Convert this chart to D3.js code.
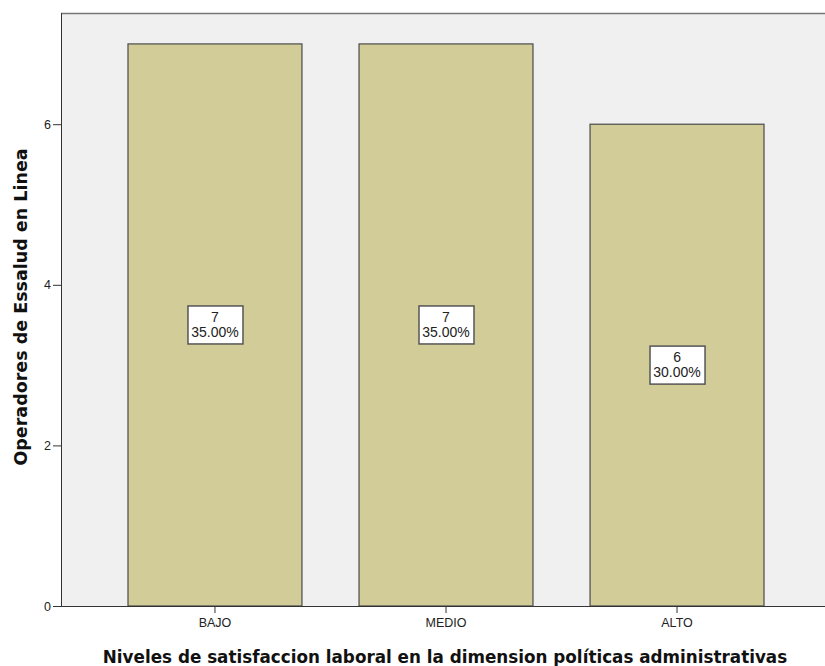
<html>
<head>
<meta charset="utf-8">
<style>
  body { margin: 0; background: #fff; }
  svg { display: block; }
  .axis text { font-family: "Liberation Sans", Arial, sans-serif; font-size: 12.5px; fill: #222; }
  .axis path, .axis line { stroke: #333; }
  .title { font-family: "DejaVu Sans", Verdana, sans-serif; font-weight: bold; fill: #111; }
  .lbl { font-family: "Liberation Sans", Arial, sans-serif; font-size: 14px; fill: #222; }
</style>
<script src="https://d3js.org/d3.v7.min.js"></script>
</head>
<body>
<svg width="825" height="666"></svg>
<script>
// data
var categories = ["BAJO", "MEDIO", "ALTO"];
var counts = [7, 7, 6];
var percents = ["35.00%", "35.00%", "30.00%"];
var yTicks = [0, 2, 4, 6];

var svg = d3.select("svg");
var m = { left: 61, top: 13, right: 831, bottom: 606 };

var x = d3.scaleBand().domain(categories)
    .range([m.left, m.right]).paddingInner(0.247).paddingOuter(0.29);
var y = d3.scaleLinear().domain([0, 7.385]).range([m.bottom, m.top]);

// plot background
svg.append("rect")
    .attr("x", m.left).attr("y", m.top)
    .attr("width", m.right - m.left).attr("height", m.bottom - m.top)
    .attr("fill", "#f0f0f0");
svg.append("line")
    .attr("x1", m.left).attr("x2", m.right)
    .attr("y1", m.top + 0.5).attr("y2", m.top + 0.5)
    .attr("stroke", "#777").attr("stroke-width", 1.5);

// bars
svg.selectAll(".bar").data(counts).enter().append("rect")
    .attr("class", "bar")
    .attr("x", function(d, i) { return x(categories[i]); })
    .attr("y", function(d) { return y(d); })
    .attr("width", x.bandwidth())
    .attr("height", function(d) { return m.bottom - y(d); })
    .attr("fill", "#d2cd98")
    .attr("stroke", "#4a4a4a")
    .attr("stroke-width", 1.2);

// labels
var g = svg.selectAll(".lab").data(counts).enter().append("g")
    .attr("transform", function(d, i) {
        return "translate(" + (x(categories[i]) + x.bandwidth() / 2) + "," + ((y(d) + m.bottom) / 2) + ")";
    });
g.append("rect")
    .attr("x", -27).attr("y", -19).attr("width", 55).attr("height", 38)
    .attr("fill", "#fff").attr("stroke", "#555").attr("stroke-width", 1.5);
g.append("text").attr("class", "lbl").attr("text-anchor", "middle")
    .attr("y", -3).text(function(d) { return d; });
g.append("text").attr("class", "lbl").attr("text-anchor", "middle")
    .attr("y", 12).text(function(d, i) { return percents[i]; });

// axes
svg.append("g").attr("class", "axis")
    .attr("transform", "translate(" + m.left + ",0)")
    .call(d3.axisLeft(y).tickValues(yTicks).tickSize(8).tickSizeOuter(0).tickPadding(2))
    .select(".domain").attr("d", "M0.5," + m.top + "V" + m.bottom);

var xa = svg.append("g").attr("class", "axis")
    .attr("transform", "translate(0," + m.bottom + ")")
    .call(d3.axisBottom(x).tickSize(7).tickSizeOuter(0).tickPadding(5));
xa.select(".domain").attr("d", "M" + m.left + ",0.5H" + m.right);

// titles
svg.append("text").attr("class", "title")
    .attr("x", 445).attr("y", 663).attr("text-anchor", "middle")
    .style("font-size", "16.8px")
    .text("Niveles de satisfaccion laboral en la dimension políticas administrativas");
svg.append("text").attr("class", "title")
    .attr("transform", "translate(27,307) rotate(-90)")
    .attr("text-anchor", "middle")
    .style("font-size", "17.5px")
    .text("Operadores de Essalud en Linea");
</script>
</body>
</html>
